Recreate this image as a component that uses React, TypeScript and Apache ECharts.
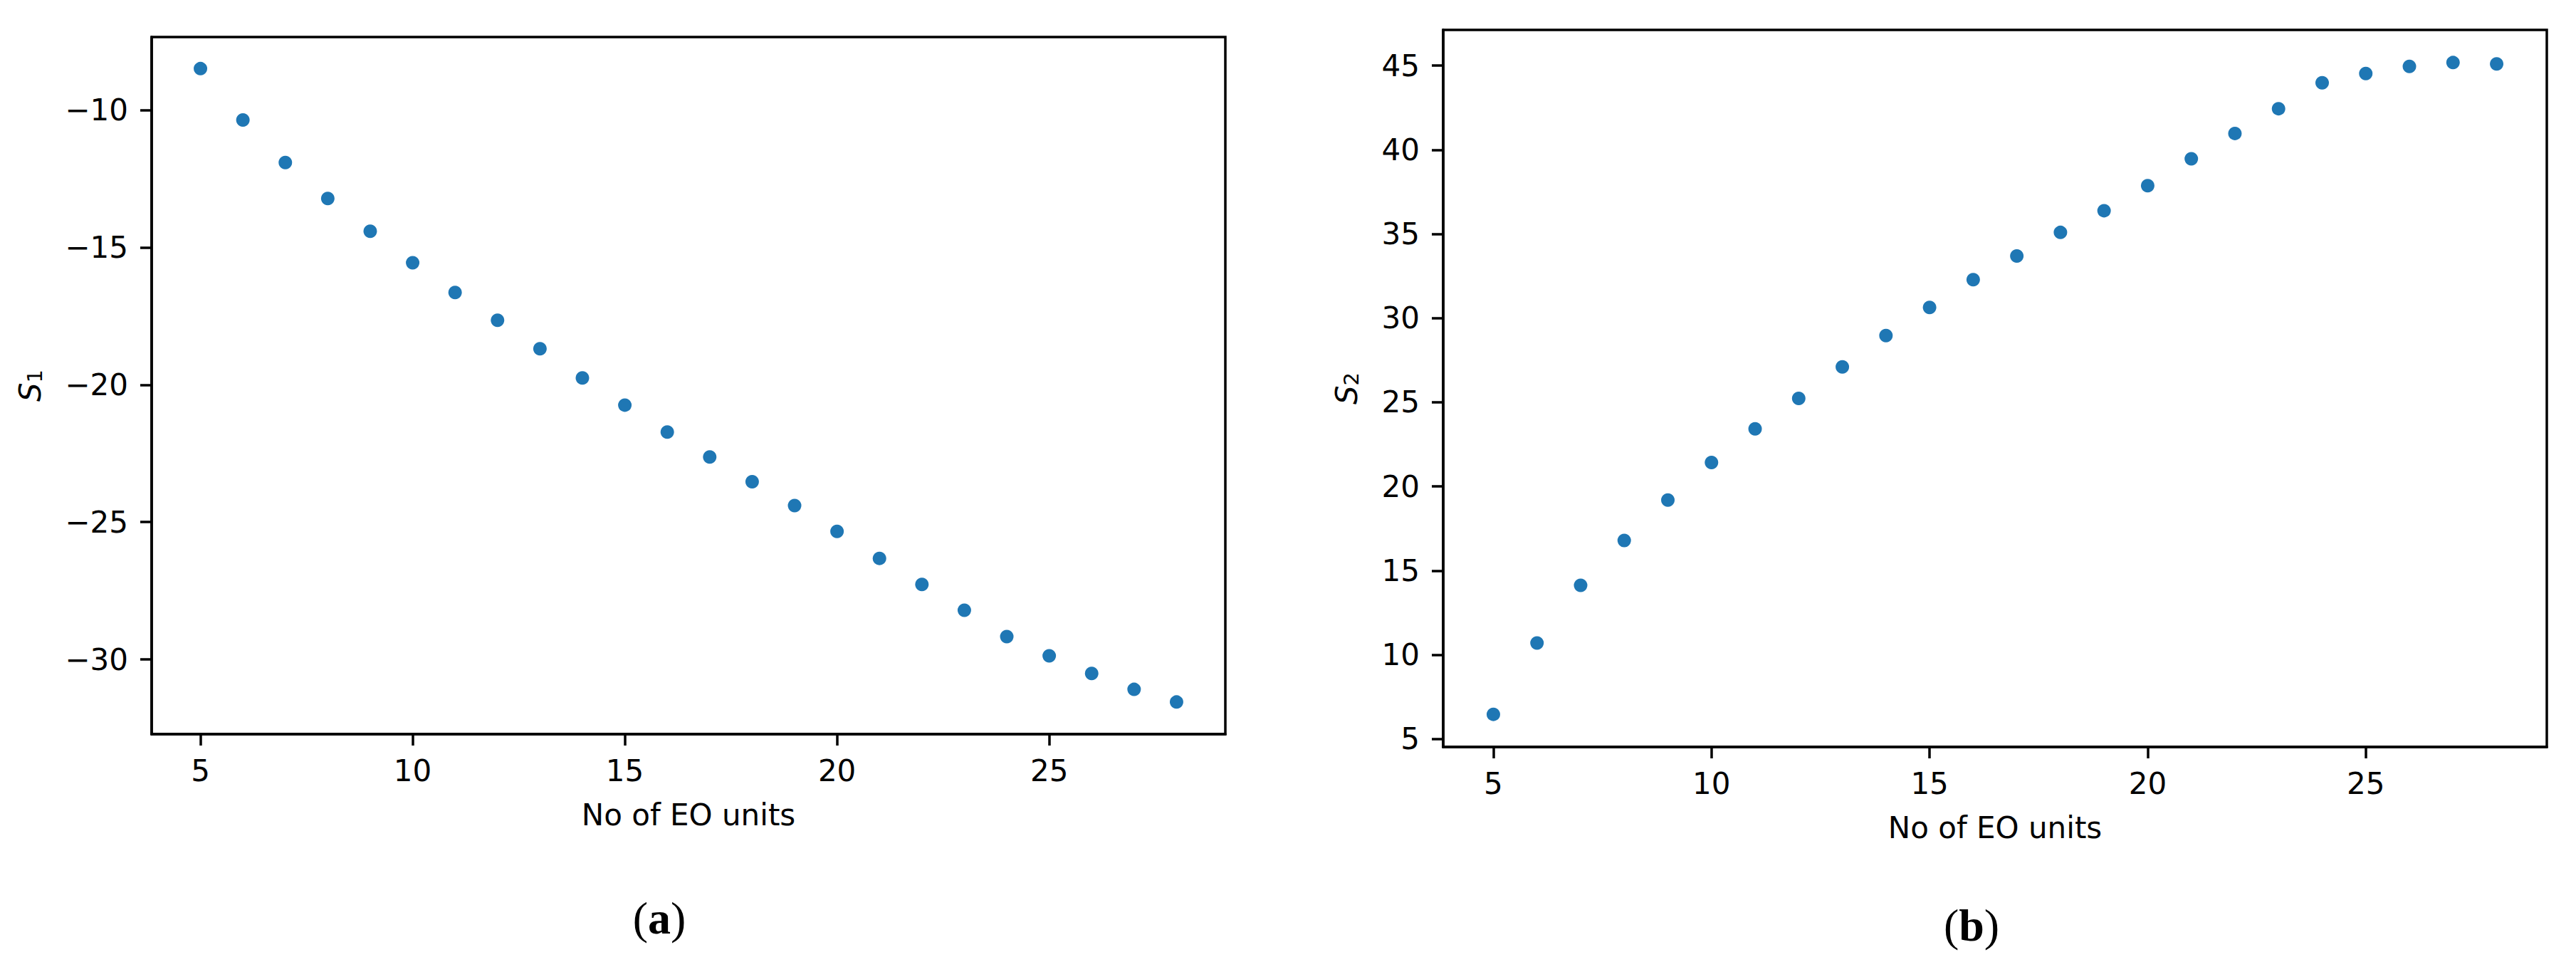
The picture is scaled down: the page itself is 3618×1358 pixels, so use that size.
import React, { useEffect, useRef } from "react";
import * as echarts from "echarts";

const eoUnits = [5, 6, 7, 8, 9, 10, 11, 12, 13, 14, 15, 16, 17, 18, 19, 20, 21, 22, 23, 24, 25, 26, 27, 28];
const s1Values = [-8.49, -10.36, -11.91, -13.22, -14.41, -15.56, -16.64, -17.65, -18.69, -19.75, -20.74, -21.72, -22.63, -23.53, -24.4, -25.34, -26.32, -27.27, -28.21, -29.17, -29.87, -30.51, -31.09, -31.55];
const s2Values = [6.46, 10.7, 14.12, 16.79, 19.19, 21.42, 23.42, 25.23, 27.1, 28.96, 30.63, 32.28, 33.69, 35.09, 36.38, 37.87, 39.46, 40.97, 42.44, 43.98, 44.53, 44.95, 45.18, 45.1];
const xTicks = [5, 10, 15, 20, 25];
const s1Ticks = [-30, -25, -20, -15, -10];
const s2Ticks = [5, 10, 15, 20, 25, 30, 35, 40, 45];

const FONT = "DejaVu Sans";
const BLUE = "#1f77b4";
const LW = 3.5;

const fmt = (v: number) => String(v).replace("-", "\u2212");

function xAxisCfg(gridIndex: number) {
  return {
    type: "value",
    gridIndex,
    min: 3.85,
    max: 29.15,
    name: "No of EO units",
    nameLocation: "middle",
    nameGap: 92,
    nameTextStyle: { fontFamily: FONT, fontSize: 42, color: "#000" },
    axisLine: { show: true, onZero: false, lineStyle: { color: "#000", width: LW } },
    axisTick: { show: true, inside: false, length: 16, customValues: xTicks, lineStyle: { color: "#000", width: LW } },
    axisLabel: { show: true, customValues: xTicks, margin: 30, fontFamily: FONT, fontSize: 42, color: "#000", formatter: fmt },
    splitLine: { show: false },
  };
}

function yAxisCfg(gridIndex: number, min: number, max: number, ticks: number[], sub: string, gap: number) {
  return {
    type: "value",
    gridIndex,
    min,
    max,
    name: "{i|S}{s|" + sub + "}",
    nameLocation: "middle",
    nameRotate: 90,
    nameGap: gap,
    nameTextStyle: {
      fontFamily: FONT,
      color: "#000",
      rich: {
        i: { fontFamily: FONT, fontStyle: "italic", fontSize: 42, lineHeight: 42, verticalAlign: "top", color: "#000" },
        s: { fontFamily: FONT, fontSize: 29, lineHeight: 29, padding: [20, 0, 0, 0], verticalAlign: "bottom", color: "#000" },
      },
    },
    axisLine: { show: true, onZero: false, lineStyle: { color: "#000", width: LW } },
    axisTick: { show: true, inside: false, length: 16, customValues: ticks, lineStyle: { color: "#000", width: LW } },
    axisLabel: { show: true, customValues: ticks, margin: 33, fontFamily: FONT, fontSize: 42, color: "#000", formatter: fmt },
    splitLine: { show: false },
  };
}

export default function App() {
  const ref = useRef<HTMLDivElement>(null);
  useEffect(() => {
    if (!ref.current) return;
    const chart = echarts.init(ref.current, undefined, { renderer: "svg" });
    const caption = (label: string, x: number, y: number) => ({
      type: "text",
      x,
      y,
      style: {
        text: "{p|(}{b|" + label + "}{p|)}",
        align: "center",
        verticalAlign: "middle",
        rich: {
          p: { fontFamily: "Liberation Serif", fontSize: 64, color: "#000" },
          b: { fontFamily: "Liberation Serif", fontSize: 64, fontWeight: "bold", color: "#000" },
        },
      },
    });
    chart.setOption({
      animation: false,
      backgroundColor: "#fff",
      grid: [
        { left: 213, top: 52, width: 1508, height: 979, show: true, borderColor: "#000", borderWidth: LW, backgroundColor: "transparent" },
        { left: 2027, top: 42, width: 1550, height: 1007, show: true, borderColor: "#000", borderWidth: LW, backgroundColor: "transparent" },
      ],
      xAxis: [xAxisCfg(0), xAxisCfg(1)],
      yAxis: [
        yAxisCfg(0, -32.72, -7.34, s1Ticks, "1", 150),
        yAxisCfg(1, 4.52, 47.12, s2Ticks, "2", 115),
      ],
      series: [
        {
          type: "scatter",
          xAxisIndex: 0,
          yAxisIndex: 0,
          symbolSize: 19,
          itemStyle: { color: BLUE, opacity: 1 },
          data: eoUnits.map((x, i) => [x, s1Values[i]]),
        },
        {
          type: "scatter",
          xAxisIndex: 1,
          yAxisIndex: 1,
          symbolSize: 19,
          itemStyle: { color: BLUE, opacity: 1 },
          data: eoUnits.map((x, i) => [x, s2Values[i]]),
        },
      ],
      graphic: [caption("a", 926, 1289), caption("b", 2769, 1299)],
    });
    return () => chart.dispose();
  }, []);
  return (
    <div
      ref={ref}
      style={{ position: "fixed", left: 0, top: 0, width: 3618, height: 1358, background: "#fff" }}
    />
  );
}
